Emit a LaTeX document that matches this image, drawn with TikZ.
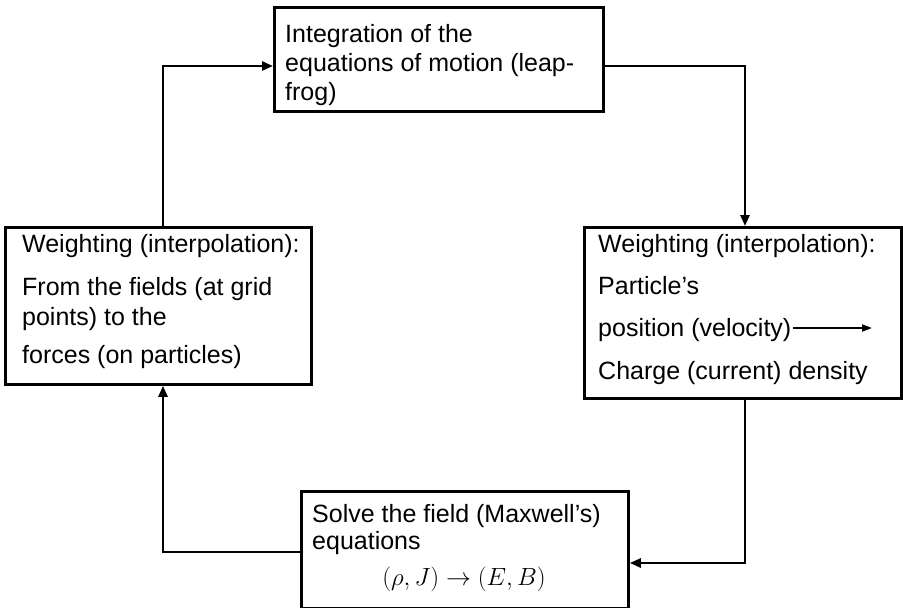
\documentclass[tikz,border=0pt]{standalone}
\usepackage{fontspec}
\setmainfont{Liberation Sans}
\usetikzlibrary{arrows.meta}
\begin{document}
\begin{tikzpicture}[x=1pt,y=-1pt,
  box/.style={draw=black,line width=2.8pt,fill=white,inner sep=0pt,anchor=north west},
  txt/.style={anchor=base west,inner sep=0pt,font=\fontsize{25}{30}\selectfont},
  conn/.style={line width=2.5pt,-{Triangle[length=11pt,width=9pt]}}]
\useasboundingbox[fill=white] (0,0) rectangle (903,608);
% boxes
\node[box,minimum width=329pt,minimum height=104pt] (T) at (273,6) {};
\node[box,minimum width=306pt,minimum height=157pt] (L) at (4,226) {};
\node[box,minimum width=317pt,minimum height=171pt] (R) at (583,226) {};
\node[box,minimum width=327pt,minimum height=117pt] (B) at (300,490) {};
% texts top
\node[txt] (t1) at (285,42) {Integration of the};
\node[txt] (t2) at (285,71) {equations of motion (leap-};
\node[txt] (t3) at (285,100) {frog)};
% left
\node[txt] (l1) at (22,252) {Weighting (interpolation):};
\node[txt] (l2) at (22,295) {From the fields (at grid};
\node[txt] (l3) at (22,325) {points) to the};
\node[txt] (l4) at (22,363) {forces (on particles)};
% right
\node[txt] (r1) at (598,252) {Weighting (interpolation):};
\node[txt] (r2) at (598,294) {Particle’s};
\node[txt] (r3) at (598,336) {position (velocity)};
\node[txt] (r4) at (598,379) {Charge (current) density};
\coordinate (ra) at (872,328);
\draw[line width=2pt,-{Triangle[length=10pt,width=7pt]}] (r3.base east) ++(1.5pt,8pt) coordinate (rs) -- (rs -| ra);
% bottom
\node[txt] (b1) at (312,522) {Solve the field (Maxwell’s)};
\node[txt] (b2) at (312,549) {equations};
\node[anchor=base,inner sep=0pt,font=\fontsize{29}{32}\selectfont] (b3) at (464,585) {$(\rho, J) \rightarrow (E, B)$};
% connectors
\draw[conn] (T.east |- 0,66) -- (745,66) -- (R.north -| 745,0);
\draw[conn] (R.south -| 745,0) -- (745,563) -- (B.east |- 0,563);
\draw[conn] (B.west |- 0,552) -- (163,552) -- (L.south -| 163,0);
\draw[conn] (L.north -| 163,0) -- (163,66) -- (T.west |- 0,66);
\end{tikzpicture}
\end{document}
